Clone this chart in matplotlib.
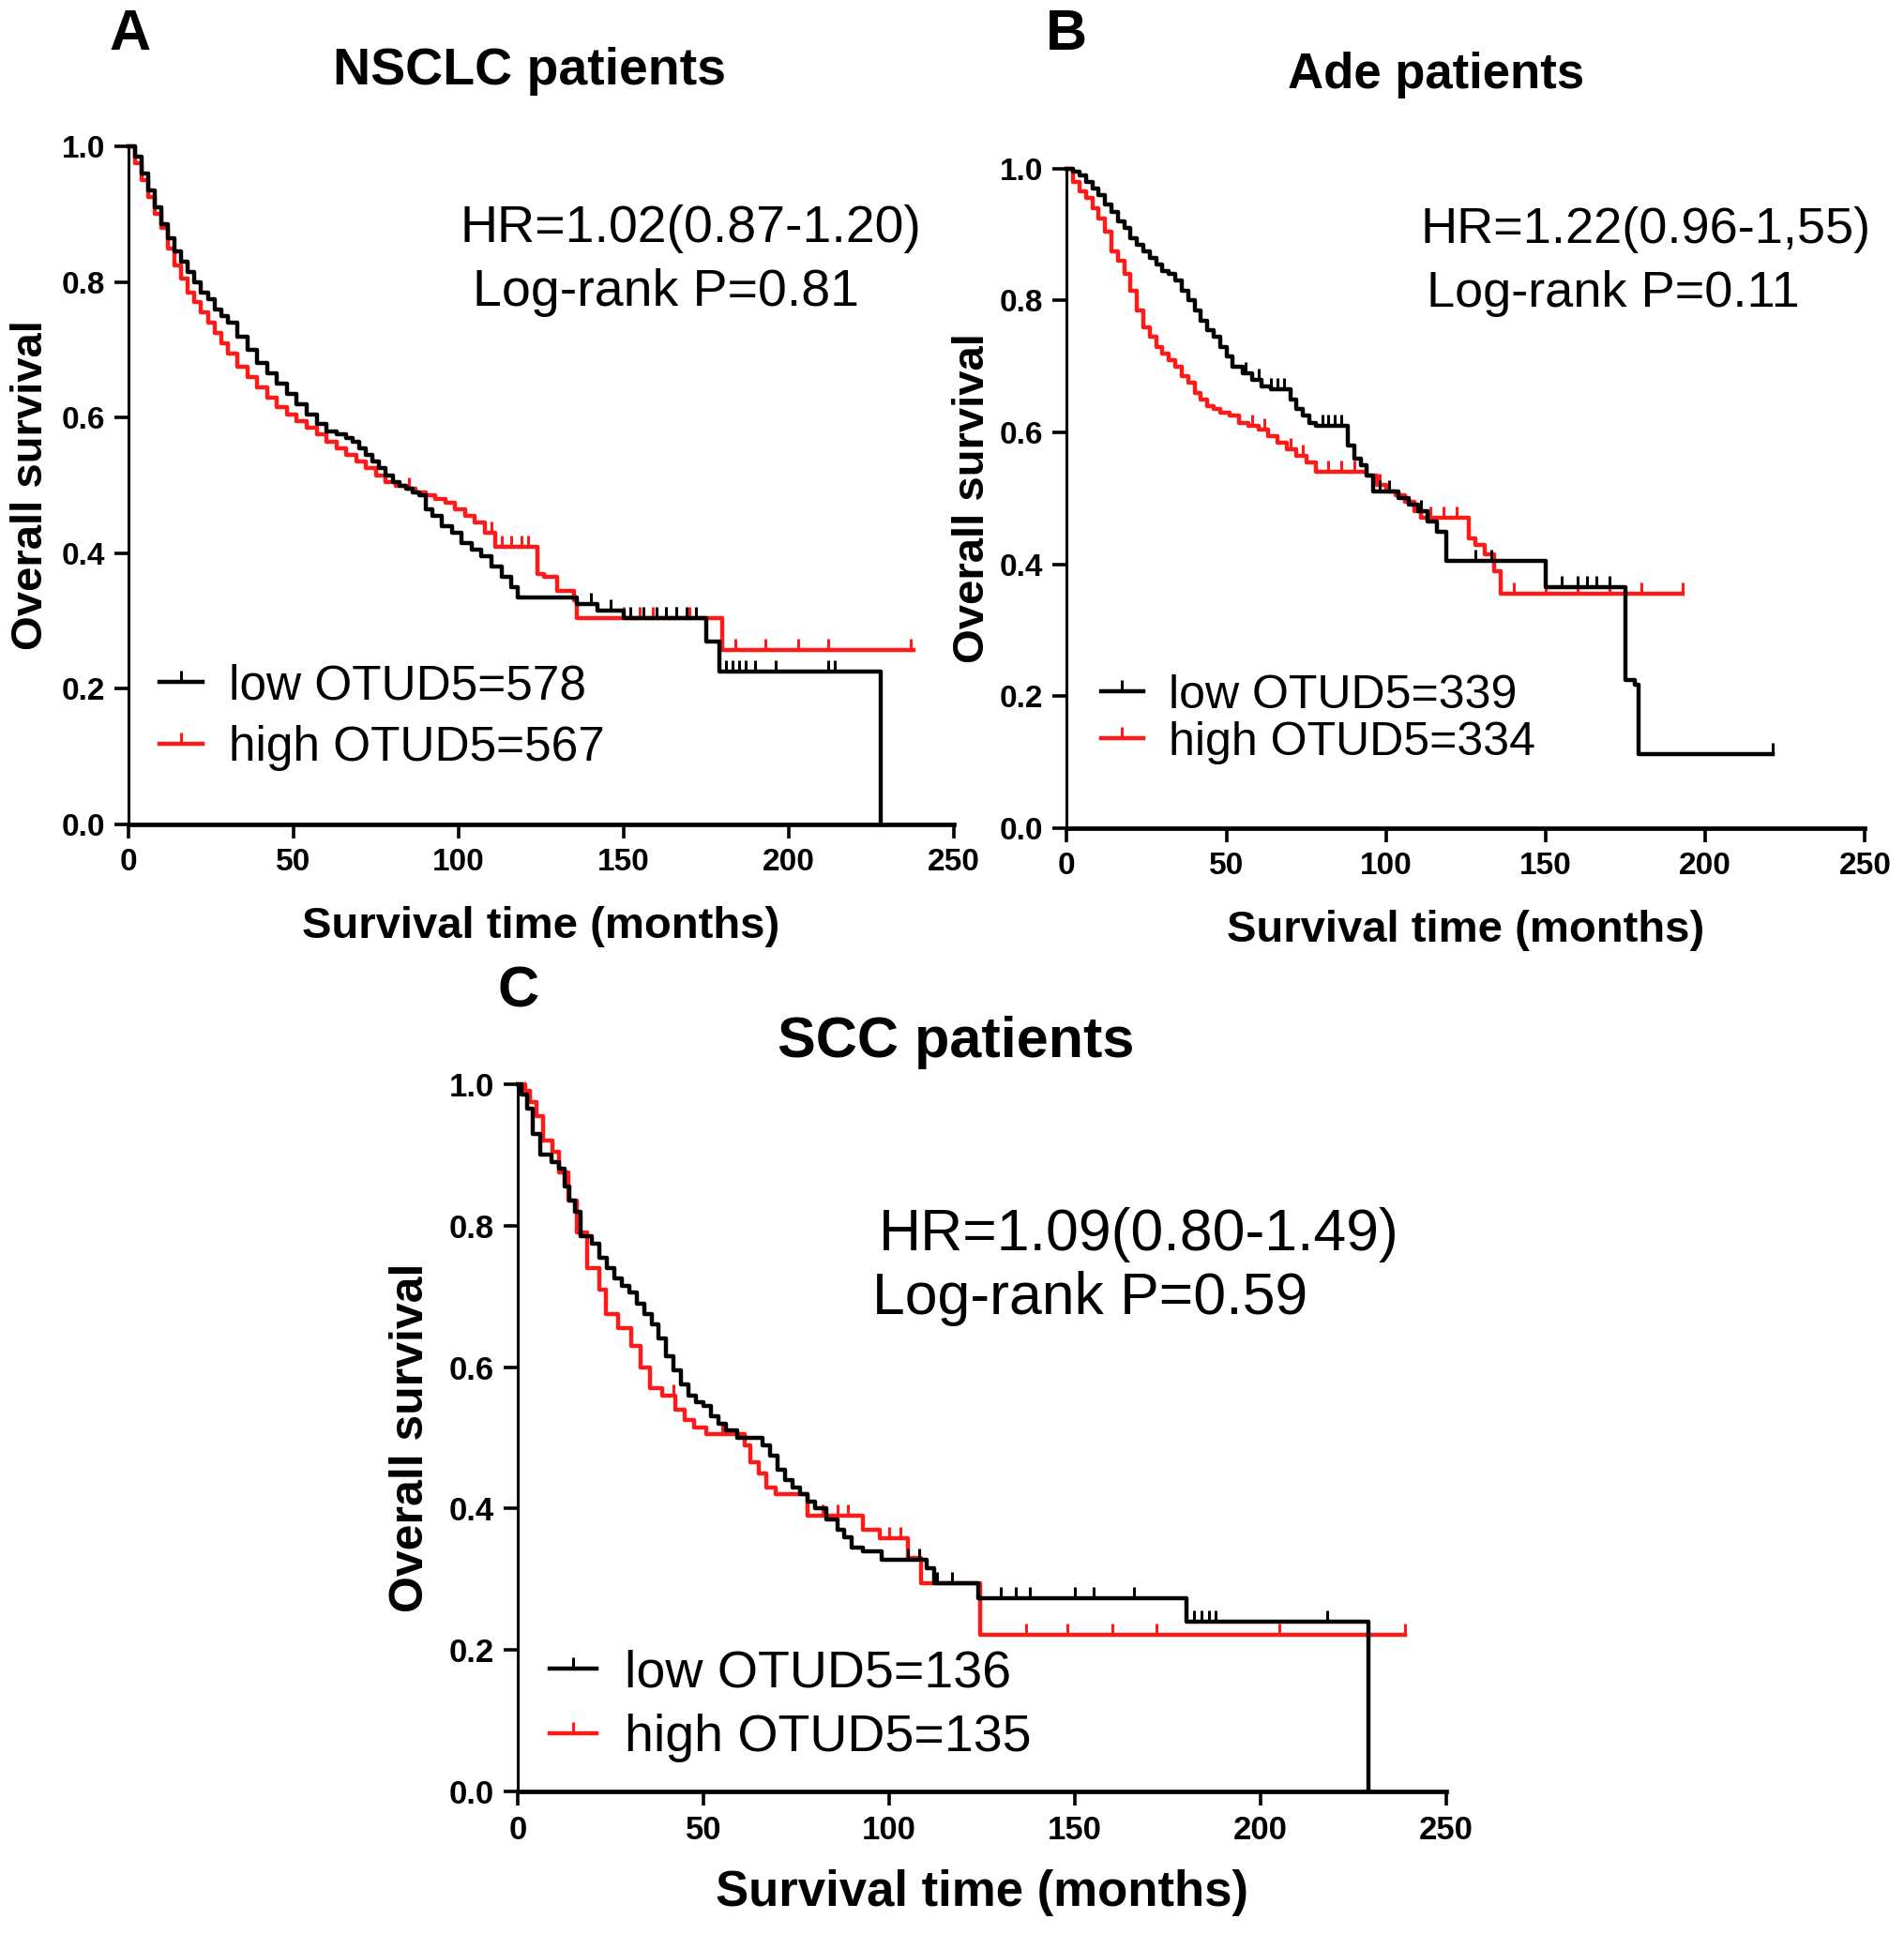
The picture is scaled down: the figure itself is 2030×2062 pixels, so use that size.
import numpy as np
import matplotlib
matplotlib.use('Agg')
import matplotlib.pyplot as plt
from matplotlib.lines import Line2D

plt.rcParams['font.family'] = ['Liberation Sans', 'DejaVu Sans']

# ---- panel A: NSCLC ----
a_low_t = [0, 2, 4, 6, 8, 10, 12, 14, 16, 18, 20, 22, 24, 26, 28, 30, 33, 36, 39, 42, 45, 48, 51, 54, 57, 60,
           63, 66, 68, 70, 72, 74, 76, 78, 80, 82, 84, 86, 88, 90, 92, 95, 98, 101, 104, 107, 110, 113, 116,
           118, 136, 142, 150, 175, 179, 228]
a_low_s = [1.0, 0.985, 0.96, 0.935, 0.91, 0.885, 0.865, 0.845, 0.83, 0.815, 0.80, 0.785, 0.775, 0.76, 0.75,
           0.74, 0.72, 0.70, 0.68, 0.665, 0.65, 0.635, 0.62, 0.605, 0.59, 0.58, 0.575, 0.57, 0.565, 0.555, 0.545,
           0.535, 0.525, 0.515, 0.505, 0.50, 0.495, 0.49, 0.485, 0.465, 0.455, 0.44, 0.43, 0.415, 0.405, 0.395,
           0.38, 0.365, 0.35, 0.335, 0.325, 0.315, 0.305, 0.27, 0.225, 0.0]
a_low_cens = [140, 146, 152, 156, 160, 163, 166, 169, 172, 181, 183, 185, 187, 190, 196, 212, 214]
a_high_t = [0, 2, 4, 6, 8, 10, 12, 14, 16, 18, 20, 22, 24, 26, 28, 30, 33, 36, 39, 42, 45, 48, 51, 54, 57, 60,
            63, 66, 69, 72, 75, 78, 81, 84, 87, 90, 93, 96, 99, 102, 105, 108, 111, 124, 126, 130, 135, 136,
            180, 238]
a_high_s = [1.0, 0.975, 0.95, 0.925, 0.90, 0.88, 0.85, 0.825, 0.805, 0.785, 0.77, 0.755, 0.74, 0.725, 0.71,
            0.695, 0.675, 0.66, 0.645, 0.63, 0.615, 0.605, 0.595, 0.585, 0.575, 0.565, 0.555, 0.545, 0.535,
            0.525, 0.515, 0.505, 0.50, 0.495, 0.49, 0.485, 0.48, 0.475, 0.465, 0.455, 0.445, 0.43, 0.41, 0.37,
            0.365, 0.345, 0.33, 0.305, 0.258, 0.258]
a_high_cens = [85, 110, 113, 116, 119, 121, 150, 155, 159, 163, 166, 170, 184, 193, 203, 212, 237]

# ---- panel B: Ade ----
b_low_t = [0, 2, 4, 6, 8, 10, 12, 14, 16, 18, 20, 22, 24, 26, 28, 30, 32, 34, 36, 38, 40, 42, 44, 46, 48, 50,
           52, 55, 58, 61, 64, 68, 70, 72, 74, 76, 78, 88, 90, 92, 94, 96, 104, 107, 110, 113, 116, 119, 150,
           175, 178, 179, 221]
b_low_s = [1.0, 0.995, 0.99, 0.98, 0.97, 0.96, 0.945, 0.935, 0.92, 0.91, 0.895, 0.885, 0.875, 0.865, 0.855,
           0.845, 0.84, 0.83, 0.815, 0.80, 0.785, 0.77, 0.755, 0.745, 0.73, 0.715, 0.70, 0.69, 0.68, 0.67,
           0.665, 0.665, 0.65, 0.635, 0.625, 0.615, 0.61, 0.58, 0.56, 0.55, 0.535, 0.51, 0.50, 0.49, 0.48,
           0.465, 0.45, 0.405, 0.365, 0.225, 0.218, 0.112, 0.112]
b_low_cens = [56, 60, 64, 66, 68, 80, 82, 84, 86, 98, 101, 111, 128, 133, 155, 160, 163, 166, 170, 221]
b_high_t = [0, 2, 4, 6, 8, 10, 12, 14, 16, 18, 20, 22, 24, 26, 28, 30, 32, 34, 36, 38, 40, 42, 44, 46, 48, 51,
            54, 57, 60, 63, 66, 69, 72, 75, 78, 94, 97, 100, 103, 106, 109, 111, 126, 128, 131, 134, 136, 193]
b_high_s = [1.0, 0.98, 0.965, 0.955, 0.94, 0.925, 0.905, 0.875, 0.86, 0.84, 0.815, 0.785, 0.76, 0.745, 0.73,
            0.72, 0.71, 0.70, 0.685, 0.675, 0.66, 0.65, 0.64, 0.635, 0.63, 0.625, 0.615, 0.61, 0.605, 0.595,
            0.585, 0.575, 0.565, 0.555, 0.54, 0.535, 0.52, 0.51, 0.505, 0.495, 0.48, 0.47, 0.44, 0.43, 0.415,
            0.39, 0.355, 0.355]
b_high_cens = [58, 62, 70, 74, 82, 86, 90, 98, 114, 118, 122, 140, 150, 160, 170, 180, 193]

# ---- panel C: SCC ----
c_low_t = [0, 1, 2.5, 4, 6, 9, 11, 12.7, 14, 15.3, 17, 20, 22, 24, 26, 28, 30, 32, 34, 36, 38, 40, 42, 44, 46,
           48, 50, 52, 54, 56, 59, 66, 68, 70, 72, 74, 76, 78, 80, 83, 86, 88, 90, 93, 98, 110, 112, 124, 180,
           229]
c_low_s = [1.0, 0.985, 0.965, 0.93, 0.90, 0.89, 0.88, 0.855, 0.835, 0.82, 0.785, 0.775, 0.755, 0.74, 0.725,
           0.715, 0.705, 0.69, 0.675, 0.66, 0.64, 0.615, 0.595, 0.575, 0.56, 0.55, 0.545, 0.53, 0.52, 0.51,
           0.50, 0.49, 0.475, 0.455, 0.44, 0.43, 0.42, 0.41, 0.40, 0.385, 0.37, 0.36, 0.345, 0.34, 0.328,
           0.315, 0.295, 0.273, 0.24, 0.0]
c_low_cens = [105, 108, 113, 117, 130, 134, 138, 150, 155, 166, 182, 184, 186, 188, 218]
c_high_t = [0, 2, 3.4, 5, 6.8, 9.3, 11, 13.6, 16, 18.6, 22, 23.7, 27, 30.5, 33, 35.6, 39, 42.4, 45, 47.5, 50.8,
            61, 62.7, 65, 67, 69.5, 78, 93, 97.5, 105, 108.5, 124.6, 239]
c_high_s = [1.0, 0.99, 0.975, 0.955, 0.92, 0.905, 0.875, 0.835, 0.79, 0.74, 0.71, 0.675, 0.655, 0.63, 0.60,
            0.57, 0.56, 0.54, 0.525, 0.515, 0.505, 0.49, 0.465, 0.45, 0.43, 0.42, 0.39, 0.37, 0.358, 0.33,
            0.295, 0.221, 0.221]
c_high_cens = [42, 55, 82, 86, 89, 100, 103, 137, 148, 160, 172, 205, 239]

x_ticks = [0, 50, 100, 150, 200, 250]
y_ticks = [0.0, 0.2, 0.4, 0.6, 0.8, 1.0]

RED = '#ff1a1a'
LW = 3.2


def surv_at(t, s, times):
    t = np.asarray(t, float)
    s = np.asarray(s, float)
    idx = np.searchsorted(t, times, side='right') - 1
    return s[idx]


def km_panel(ax, low, high, labels, stats, stat_pos, leg_pos, fs):
    for (t, s, cens), col in ((high, RED), (low, 'black')):
        ax.step(t, s, where='post', color=col, lw=LW, clip_on=False, zorder=3)
        ax.plot(cens, surv_at(t, s, cens), ls='none', marker=2, ms=9, mew=2.2,
                color=col, clip_on=False, zorder=3)
    ax.set_xlim(0, 250)
    ax.set_ylim(0, 1.0)
    ax.set_xticks(x_ticks)
    ax.set_yticks(y_ticks)
    ax.set_yticklabels([f'{v:.1f}' for v in y_ticks])
    for sp in ['top', 'right']:
        ax.spines[sp].set_visible(False)
    ax.spines['bottom'].set_linewidth(3.4)
    ax.spines['left'].set_linewidth(2.2)
    ax.tick_params(axis='both', direction='out', length=11, width=2.6, labelsize=fs['tick'], pad=7)
    for lab in ax.get_xticklabels() + ax.get_yticklabels():
        lab.set_fontweight('bold')
    ax.set_xlabel('Survival time (months)', fontsize=fs['xlab'], fontweight='bold')
    ax.set_ylabel('Overall survival', fontsize=fs['ylab'], fontweight='bold')
    ax.xaxis.set_label_coords(0.5, fs['xlab_y'])
    ax.xaxis.label.set_va('center')
    ax.yaxis.set_label_coords(fs['ylab_x'], 0.5)
    ax.yaxis.label.set_va('center')
    ax.text(stat_pos[0], stat_pos[1], stats[0], transform=ax.transAxes, fontsize=fs['hr'], va='center')
    ax.text(stat_pos[2], stat_pos[3], stats[1], transform=ax.transAxes, fontsize=fs['hr'], va='center')
    handles = [Line2D([], [], color='black', lw=LW, marker=2, ms=9, mew=2.2),
               Line2D([], [], color=RED, lw=LW, marker=2, ms=9, mew=2.2)]
    ax.legend(handles, labels, loc='center left', bbox_to_anchor=leg_pos, frameon=False,
              fontsize=fs['leg'], handlelength=0.9, handletextpad=0.55, borderpad=0,
              borderaxespad=0, labelspacing=fs['lsp'], numpoints=1)


fig = plt.figure(figsize=(20.31, 20.62), dpi=100)

axA = fig.add_axes([0.0675, 0.5737, 0.433, 0.3506])
km_panel(axA, (a_low_t, a_low_s, a_low_cens), (a_high_t, a_high_s, a_high_cens),
         ['low OTUD5=578', 'high OTUD5=567'],
         ['HR=1.02(0.87-1.20)', 'Log-rank P=0.81'], (0.402, 0.878, 0.417, 0.784), (0.037, 0.158),
         dict(tick=24, xlab=34, ylab=34, hr=40, leg=37, lsp=0.33, xlab_y=-0.151, ylab_x=-0.118))

axB = fig.add_axes([0.560, 0.5718, 0.419, 0.341])
km_panel(axB, (b_low_t, b_low_s, b_low_cens), (b_high_t, b_high_s, b_high_cens),
         ['low OTUD5=339', 'high OTUD5=334'],
         ['HR=1.22(0.96-1,55)', 'Log-rank P=0.11'], (0.4436, 0.907, 0.451, 0.811), (0.043, 0.165),
         dict(tick=24, xlab=34, ylab=34, hr=39, leg=36, lsp=0.08, xlab_y=-0.155, ylab_x=-0.1175))

axC = fig.add_axes([0.2718, 0.0737, 0.4874, 0.3657])
km_panel(axC, (c_low_t, c_low_s, c_low_cens), (c_high_t, c_high_s, c_high_cens),
         ['low OTUD5=136', 'high OTUD5=135'],
         ['HR=1.09(0.80-1.49)', 'Log-rank P=0.59'], (0.389, 0.787, 0.382, 0.697), (0.034, 0.121),
         dict(tick=25, xlab=38, ylab=36, hr=45, leg=40, lsp=0.3, xlab_y=-0.143, ylab_x=-0.115))

fig.text(0.278, 0.963, 'NSCLC patients', fontsize=40, fontweight='bold', ha='center', va='center')
fig.text(0.754, 0.961, 'Ade patients', fontsize=38, fontweight='bold', ha='center', va='center')
fig.text(0.5017, 0.461, 'SCC patients', fontsize=44, fontweight='bold', ha='center', va='center')
fig.text(0.068, 0.982, 'A', fontsize=44, fontweight='bold', ha='center', va='center')
fig.text(0.560, 0.982, 'B', fontsize=44, fontweight='bold', ha='center', va='center')
fig.text(0.272, 0.487, 'C', fontsize=44, fontweight='bold', ha='center', va='center')

fig.savefig('out.png', dpi=100, facecolor='white')
